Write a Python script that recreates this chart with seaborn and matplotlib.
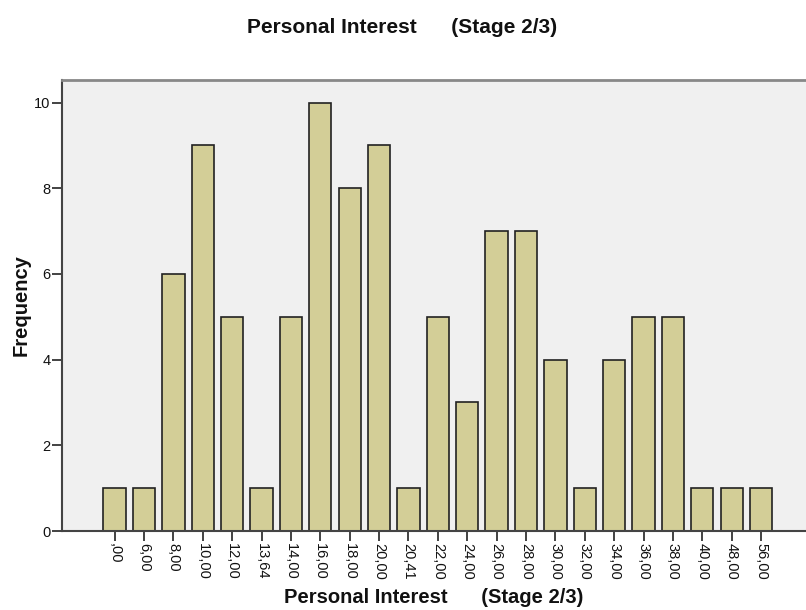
import seaborn as sns
import pandas as pd
import matplotlib.pyplot as plt

categories = [",00", "6,00", "8,00", "10,00", "12,00", "13,64", "14,00", "16,00",
              "18,00", "20,00", "20,41", "22,00", "24,00", "26,00", "28,00", "30,00",
              "32,00", "34,00", "36,00", "38,00", "40,00", "48,00", "56,00"]
frequency = [1, 1, 6, 9, 5, 1, 5, 10, 8, 9, 1, 5, 3, 7, 7, 4, 1, 4, 5, 5, 1, 1, 1]

label = "Personal Interest      (Stage 2/3)"

sns.set_style("white")
plt.rcParams['font.family'] = ['Liberation Sans', 'DejaVu Sans']

data = pd.DataFrame({"value": categories, "Frequency": frequency})

fig = plt.figure(figsize=(8.06, 6.10), dpi=100)
ax = fig.add_axes([0.077, 0.1295, 0.923, 0.7395])
ax.set_facecolor("#F0F0F0")

sns.barplot(x="value", y="Frequency", data=data, color="#D3CE97", saturation=1,
            edgecolor="#222222", linewidth=1.2, width=0.76, ax=ax)

ax.set_xlim(-1.79, 23.53)
ax.set_ylim(0, 10.53)
ax.set_yticks([0, 2, 4, 6, 8, 10])
plt.xticks(rotation=270)
ax.tick_params(axis="both", direction="out", length=7, width=1.2, color="#222222",
               labelsize=10.5, labelcolor="#111111", bottom=True, left=True, pad=1.5)

for side in ["left", "bottom"]:
    ax.spines[side].set_color("#444444")
    ax.spines[side].set_linewidth(1.5)
ax.spines["top"].set_color("#888888")
ax.spines["top"].set_linewidth(2)
ax.spines["right"].set_visible(False)

ax.set_xlabel(label, fontsize=14.5, fontweight="bold", labelpad=6, color="#111111")
ax.set_ylabel("Frequency", fontsize=14.5, fontweight="bold", labelpad=2, color="#111111")
fig.text(0.499, 0.955, label, ha="center", va="center", fontsize=15, fontweight="bold",
         color="#111111")

fig.savefig("out.png", dpi=100)
